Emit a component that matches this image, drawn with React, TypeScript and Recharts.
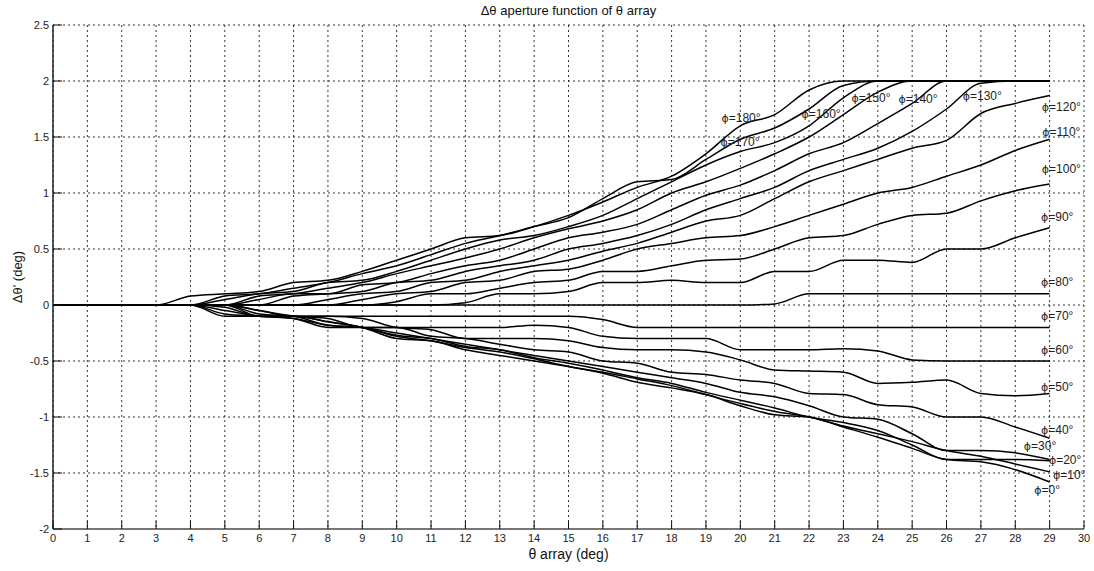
import React from 'react';
import { LineChart, Line, XAxis, YAxis, CartesianGrid, ReferenceDot } from 'recharts';

const thetaArray = [0,1,2,3,4,5,6,7,8,9,10,11,12,13,14,15,16,17,18,19,20,21,22,23,24,25,26,27,28,29];

const phi0 = [0,0,0,0,0,-0.1,-0.1,-0.1,-0.15,-0.2,-0.3,-0.32,-0.4,-0.45,-0.5,-0.55,-0.61,-0.69,-0.74,-0.8,-0.9,-0.98,-1.0,-1.09,-1.18,-1.28,-1.38,-1.4,-1.47,-1.58];
const phi10 = [0,0,0,0,0,-0.05,-0.1,-0.12,-0.18,-0.2,-0.28,-0.32,-0.38,-0.42,-0.48,-0.55,-0.6,-0.66,-0.72,-0.8,-0.88,-0.95,-1.0,-1.08,-1.15,-1.22,-1.3,-1.35,-1.42,-1.49];
const phi20 = [0,0,0,0,0,-0.02,-0.1,-0.1,-0.15,-0.2,-0.27,-0.3,-0.37,-0.4,-0.47,-0.52,-0.58,-0.65,-0.7,-0.78,-0.85,-0.92,-1.0,-1.05,-1.12,-1.25,-1.38,-1.38,-1.38,-1.39];
const phi30 = [0,0,0,0,0,0,-0.08,-0.1,-0.18,-0.2,-0.25,-0.3,-0.35,-0.4,-0.45,-0.5,-0.55,-0.6,-0.65,-0.7,-0.78,-0.82,-0.9,-1.0,-1.02,-1.15,-1.3,-1.3,-1.32,-1.38];
const phi40 = [0,0,0,0,0,0,-0.05,-0.1,-0.12,-0.2,-0.2,-0.28,-0.3,-0.35,-0.4,-0.42,-0.5,-0.52,-0.6,-0.62,-0.67,-0.7,-0.79,-0.8,-0.89,-0.91,-1.0,-1.0,-1.09,-1.19];
const phi50 = [0,0,0,0,0,0,-0.05,-0.1,-0.1,-0.12,-0.2,-0.22,-0.3,-0.3,-0.3,-0.32,-0.38,-0.4,-0.4,-0.42,-0.49,-0.58,-0.59,-0.6,-0.7,-0.69,-0.67,-0.79,-0.81,-0.79];
const phi60 = [0,0,0,0,0,-0.08,-0.1,-0.12,-0.2,-0.2,-0.2,-0.2,-0.2,-0.2,-0.18,-0.2,-0.28,-0.3,-0.3,-0.3,-0.4,-0.4,-0.4,-0.39,-0.41,-0.49,-0.5,-0.5,-0.5,-0.5];
const phi70 = [0,0,0,0,0,0,-0.1,-0.1,-0.1,-0.1,-0.1,-0.1,-0.1,-0.1,-0.1,-0.1,-0.13,-0.2,-0.2,-0.2,-0.2,-0.2,-0.2,-0.2,-0.2,-0.2,-0.2,-0.2,-0.2,-0.2];
const phi80 = [0,0,0,0,0,0,0,0,0,0,0,0,0,0,0,0,0,0,0,0,0,0.01,0.1,0.1,0.1,0.1,0.1,0.1,0.1,0.1];
const phi90 = [0,0,0,0,0,0,0,0,0,0,0,0,0.02,0.1,0.1,0.12,0.2,0.2,0.22,0.2,0.2,0.3,0.3,0.4,0.4,0.38,0.5,0.5,0.6,0.69];
const phi100 = [0,0,0,0,0,0,0,0,0,0,0.03,0.1,0.1,0.15,0.2,0.22,0.3,0.3,0.35,0.4,0.41,0.5,0.6,0.62,0.72,0.8,0.82,0.93,1.02,1.08];
const phi110 = [0,0,0,0,0,0,0,0,0,0.05,0.1,0.12,0.2,0.22,0.3,0.32,0.4,0.5,0.55,0.6,0.62,0.7,0.8,0.9,1.0,1.05,1.15,1.25,1.38,1.48];
const phi120 = [0,0,0,0,0,0,0,0,0.05,0.1,0.12,0.2,0.22,0.3,0.35,0.4,0.48,0.55,0.65,0.75,0.8,0.95,1.1,1.2,1.3,1.4,1.47,1.71,1.8,1.87];
const phi130 = [0,0,0,0,0,0,0,0.08,0.1,0.12,0.2,0.22,0.3,0.35,0.4,0.5,0.55,0.62,0.72,0.85,0.95,1.05,1.2,1.3,1.4,1.55,1.75,1.98,2,2];
const phi140 = [0,0,0,0,0,0,0.05,0.1,0.1,0.18,0.2,0.28,0.35,0.4,0.5,0.6,0.65,0.72,0.85,0.98,1.07,1.2,1.35,1.45,1.62,1.8,2,2,2,2];
const phi150 = [0,0,0,0,0,0,0.08,0.1,0.15,0.2,0.28,0.35,0.42,0.5,0.6,0.68,0.75,0.85,1.0,1.1,1.22,1.35,1.5,1.7,1.9,2,2,2,2,2];
const phi160 = [0,0,0,0,0,0.05,0.1,0.12,0.2,0.22,0.3,0.4,0.5,0.58,0.62,0.7,0.8,0.95,1.1,1.25,1.37,1.45,1.6,1.85,2,2,2,2,2,2];
const phi170 = [0,0,0,0,0,0.08,0.1,0.15,0.2,0.28,0.35,0.45,0.55,0.62,0.7,0.78,0.95,1.1,1.12,1.3,1.48,1.58,1.75,1.96,2,2,2,2,2,2];
const phi180 = [0,0,0,0,0.08,0.1,0.12,0.2,0.22,0.3,0.4,0.5,0.6,0.62,0.7,0.8,0.92,1.05,1.15,1.35,1.6,1.7,1.92,2,2,2,2,2,2,2];

const seriesValues = [phi0, phi10, phi20, phi30, phi40, phi50, phi60, phi70, phi80, phi90, phi100, phi110, phi120, phi130, phi140, phi150, phi160, phi170, phi180];
const seriesKeys = ['p0','p10','p20','p30','p40','p50','p60','p70','p80','p90','p100','p110','p120','p130','p140','p150','p160','p170','p180'];

const labelAngles = ['0','10','20','30','40','50','60','70','80','90','100','110','120','130','140','150','160','170','180'];
const labelX = [28.93, 29.57, 29.45, 28.72, 29.22, 29.22, 29.22, 29.22, 29.22, 29.22, 29.34, 29.34, 29.34, 27.04, 25.17, 23.8, 22.35, 19.99, 20.02];
const labelY = [-1.65, -1.52, -1.38, -1.26, -1.11, -0.73, -0.40, -0.10, 0.21, 0.79, 1.22, 1.55, 1.77, 1.87, 1.84, 1.85, 1.71, 1.46, 1.67];

const xTicks = [0,1,2,3,4,5,6,7,8,9,10,11,12,13,14,15,16,17,18,19,20,21,22,23,24,25,26,27,28,29,30];
const yTicks = [-2,-1.5,-1,-0.5,0,0.5,1,1.5,2,2.5];

const data = thetaArray.map((x, i) => {
  const row: Record<string, number> = { x };
  seriesKeys.forEach((k, j) => { row[k] = seriesValues[j][i]; });
  return row;
});

const FONT = '"Liberation Sans", Arial, sans-serif';

const BottomTick = (props: any) => {
  const { x, y, payload } = props;
  return (
    <g>
      <line x1={x} x2={x} y1={y - 5} y2={y - 13} stroke="#111" strokeWidth={1} />
      <text x={x} y={y} dy="0.71em" textAnchor="middle" fontSize={11} fill="#222" fontFamily={FONT}>{payload.value}</text>
    </g>
  );
};

const LeftTick = (props: any) => {
  const { x, y, payload } = props;
  return (
    <g>
      <line x1={x + 4} x2={x + 13} y1={y} y2={y} stroke="#111" strokeWidth={1} />
      <text x={x} y={y} dy="0.35em" textAnchor="end" fontSize={11} fill="#222" fontFamily={FONT}>{payload.value}</text>
    </g>
  );
};

const TopTick = (props: any) => {
  const { x, y } = props;
  return <line x1={x} x2={x} y1={y} y2={y + 8} stroke="#111" strokeWidth={1} />;
};

const RightTick = (props: any) => {
  const { x, y } = props;
  return <line x1={x - 8} x2={x} y1={y} y2={y} stroke="#111" strokeWidth={1} />;
};

const makePhiLabel = (angle: string) => (props: any) => {
  const vb = props.viewBox || {};
  const cx = (vb.x || 0) + (vb.width || 0) / 2;
  const cy = (vb.y || 0) + (vb.height || 0) / 2;
  return (
    <text x={cx} y={cy} dy="0.35em" textAnchor="middle" fontSize={12} fill="#222" fontFamily={FONT}>
      <tspan fontFamily='"DejaVu Sans", sans-serif' fontSize={11}>{'\u03D5'}</tspan>
      <tspan>{'=' + angle + '°'}</tspan>
    </text>
  );
};

export default function App() {
  return (
    <div style={{ position: 'absolute', left: 0, top: 0, width: 1094, height: 571, background: '#fff', fontFamily: FONT }}>
      <LineChart width={1094} height={571} data={data} margin={{ top: 25, right: 10, left: 0, bottom: 0 }}>
        <CartesianGrid stroke="#000" strokeDasharray="2 3" strokeWidth={0.8} />
        <XAxis
          dataKey="x"
          type="number"
          domain={[0, 30]}
          ticks={xTicks}
          interval={0}
          height={42}
          tickSize={0}
          tickMargin={5}
          tickLine={false}
          axisLine={{ stroke: '#777', strokeWidth: 2 }}
          tick={<BottomTick />}
        />
        <XAxis
          xAxisId="top"
          orientation="top"
          dataKey="x"
          type="number"
          domain={[0, 30]}
          ticks={xTicks}
          interval={0}
          height={0}
          tickSize={0}
          tickMargin={0}
          tickLine={false}
          axisLine={{ stroke: '#555', strokeWidth: 1.2 }}
          tick={<TopTick />}
        />
        <YAxis
          type="number"
          domain={[-2, 2.5]}
          ticks={yTicks}
          interval={0}
          width={53}
          tickSize={0}
          tickMargin={4}
          tickLine={false}
          axisLine={{ stroke: '#222', strokeWidth: 1.5 }}
          tick={<LeftTick />}
        />
        <YAxis
          yAxisId="right"
          orientation="right"
          type="number"
          domain={[-2, 2.5]}
          ticks={yTicks}
          interval={0}
          width={0}
          tickSize={0}
          tickMargin={0}
          tickLine={false}
          axisLine={{ stroke: '#777', strokeWidth: 2 }}
          tick={<RightTick />}
        />
        {seriesKeys.map((k) => (
          <Line
            key={k}
            dataKey={k}
            type="monotone"
            stroke="#000"
            strokeWidth={1.5}
            dot={false}
            activeDot={false}
            isAnimationActive={false}
          />
        ))}
        {labelAngles.map((a, i) => (
          <ReferenceDot
            key={a}
            x={labelX[i]}
            y={labelY[i]}
            r={0}
            fill="none"
            stroke="none"
            label={{ content: makePhiLabel(a) }}
          />
        ))}
      </LineChart>
      <div style={{ position: 'absolute', left: 0, width: 1137, top: 3, textAlign: 'center', fontSize: 13, color: '#111' }}>
        Δθ aperture function of θ array
      </div>
      <div style={{ position: 'absolute', left: 0, width: 1137, top: 546, textAlign: 'center', fontSize: 14, color: '#111' }}>
        θ array (deg)
      </div>
      <div style={{ position: 'absolute', left: 17, top: 277, transform: 'translate(-50%, -50%) rotate(-90deg)', fontSize: 13, color: '#111', whiteSpace: 'nowrap' }}>
        Δθ' (deg)
      </div>
    </div>
  );
}
